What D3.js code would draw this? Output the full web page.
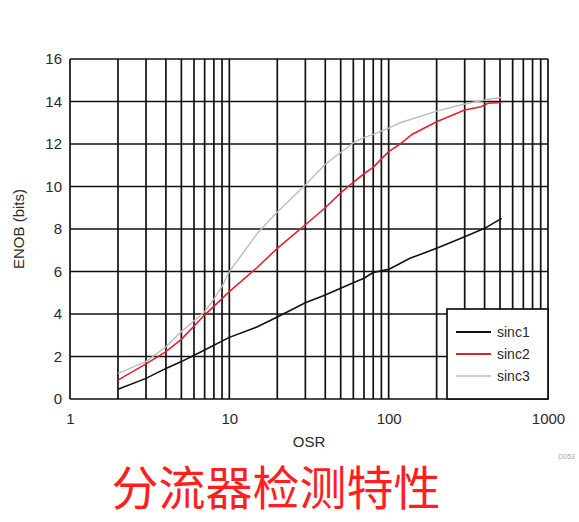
<!DOCTYPE html>
<html>
<head>
<meta charset="utf-8">
<script src="https://cdn.jsdelivr.net/npm/d3@7"></script>
<style>
  body { margin: 0; background: #fff; }
  text { font-family: "Liberation Sans", Arial, sans-serif; }
</style>
</head>
<body>
<div id="chart"></div>
<script>
const width = 579, height = 522;
const margin = {top: 59, right: 31, bottom: 123, left: 70};

// values
const osr1 = [2, 3, 4, 5, 7, 10, 15, 20, 30, 40, 50, 60, 70, 80, 100, 136, 200, 300, 400, 512];
const sinc1 = [0.46, 0.97, 1.44, 1.76, 2.31, 2.9, 3.4, 3.86, 4.53, 4.89, 5.21, 5.47, 5.68, 5.95, 6.1, 6.62, 7.09, 7.64, 8.03, 8.5];

const osr2 = [2, 3, 4, 5, 7, 10, 15, 20, 25, 30, 40, 50, 60, 70, 80, 90, 100, 118, 140, 200, 300, 380, 420, 512];
const sinc2 = [0.89, 1.65, 2.23, 2.81, 3.95, 5.05, 6.2, 7.09, 7.7, 8.2, 9.0, 9.7, 10.2, 10.6, 10.9, 11.3, 11.64, 12.0, 12.45, 13.05, 13.6, 13.75, 13.92, 13.95];

const osr3 = [2, 3, 4, 5, 7, 8, 9, 10, 12, 15, 20, 30, 40, 50, 60, 70, 80, 100, 118, 200, 300, 400, 512];
const sinc3 = [1.21, 1.76, 2.46, 3.17, 4.11, 4.7, 5.3, 6.0, 6.8, 7.8, 8.8, 10.07, 11.05, 11.6, 12.05, 12.3, 12.45, 12.75, 13.0, 13.55, 13.88, 14.07, 14.2];

const xTickLabels = [1, 10, 100, 1000];
const yTickLabels = [0, 2, 4, 6, 8, 10, 12, 14, 16];

const seriesNames = ["sinc1", "sinc2", "sinc3"];
const seriesColors = ["#111111", "#e3212b", "#bdbdbd"];

const series = [
    osr1.map((o, i) => ({x: o, y: sinc1[i]})),
    osr2.map((o, i) => ({x: o, y: sinc2[i]})),
    osr3.map((o, i) => ({x: o, y: sinc3[i]}))
];

let svg = d3.select("#chart").append("svg")
    .attr("width", width)
    .attr("height", height);

let x = d3.scaleLog()
    .domain([1, 1000])
    .range([margin.left, width - margin.right]);

let y = d3.scaleLinear()
    .domain([0, 16])
    .range([height - margin.bottom, margin.top]);

// grid
let grid = svg.append("g").attr("class", "grid")
    .attr("stroke", "#111")
    .attr("stroke-width", 1.7);

grid.selectAll("line.v")
    .data(x.ticks())
    .enter()
    .append("line")
    .attr("class", "v")
    .attr("x1", d => x(d)).attr("x2", d => x(d))
    .attr("y1", y(0)).attr("y2", y(16));

grid.selectAll("line.h")
    .data(yTickLabels)
    .enter()
    .append("line")
    .attr("class", "h")
    .attr("x1", x(1)).attr("x2", x(1000))
    .attr("y1", d => y(d)).attr("y2", d => y(d));

// curves
let line = d3.line()
    .x(d => x(d.x))
    .y(d => y(d.y));

svg.append("g").attr("class", "curves")
    .selectAll("path")
    .data(series)
    .enter()
    .append("path")
    .attr("fill", "none")
    .attr("stroke", (d, i) => seriesColors[i])
    .attr("stroke-width", (d, i) => i == 2 ? 1.4 : 1.6)
    .attr("d", line);

// axes labels
let xAxis = d3.axisBottom(x)
    .tickValues(xTickLabels)
    .tickSize(0)
    .tickPadding(14)
    .tickFormat(d3.format("d"));

let gx = svg.append("g")
    .attr("transform", `translate(0,${y(0)})`)
    .call(xAxis);

let yAxis = d3.axisLeft(y)
    .tickValues(yTickLabels)
    .tickSize(0)
    .tickPadding(8);

let gy = svg.append("g")
    .attr("transform", `translate(${x(1)},0)`)
    .call(yAxis);

[gx, gy].forEach(g => {
    g.select(".domain").remove();
    g.selectAll("text")
        .attr("fill", "#2a2a2a")
        .style("font-size", "15px")
        .style("font-family", "'Liberation Sans', Arial, sans-serif");
});

svg.append("text")
    .attr("x", 309)
    .attr("y", 447)
    .attr("text-anchor", "middle")
    .attr("fill", "#2a2a2a")
    .style("font-size", "15px")
    .text("OSR");

svg.append("text")
    .attr("transform", `translate(24,${(y(0) + y(16)) / 2}) rotate(-90)`)
    .attr("text-anchor", "middle")
    .attr("fill", "#2a2a2a")
    .style("font-size", "15px")
    .text("ENOB (bits)");

// legend
let legend = svg.append("g").attr("class", "legend");
const lx = 447, ly = 309;
legend.append("rect")
    .attr("x", lx).attr("y", ly)
    .attr("width", x(1000) - lx)
    .attr("height", y(0) - ly)
    .attr("fill", "#fff")
    .attr("stroke", "#111")
    .attr("stroke-width", 1.7);

let items = legend.selectAll("g.item")
    .data(seriesNames)
    .enter()
    .append("g")
    .attr("class", "item")
    .attr("transform", (d, i) => `translate(${lx},${ly + 23 + i * 22})`);

items.append("line")
    .attr("x1", 9).attr("x2", 44)
    .attr("stroke", (d, i) => seriesColors[i])
    .attr("stroke-width", (d, i) => i == 2 ? 1.4 : 1.8);

items.append("text")
    .attr("x", 50)
    .attr("dy", "0.35em")
    .attr("fill", "#2a2a2a")
    .style("font-size", "14px")
    .text(d => d);

// small figure code
svg.append("text")
    .attr("x", 575)
    .attr("y", 459)
    .attr("text-anchor", "end")
    .attr("fill", "#aaa")
    .style("font-size", "7px")
    .text("D053");

// title
svg.append("text")
    .attr("x", 276)
    .attr("y", 484)
    .attr("text-anchor", "middle")
    .attr("dominant-baseline", "central")
    .attr("fill", "#ff1f1f")
    .style("font-family", "'Noto Sans CJK SC', sans-serif")
    .style("font-size", "47px")
    .text("分流器检测特性");
</script>
</body>
</html>
